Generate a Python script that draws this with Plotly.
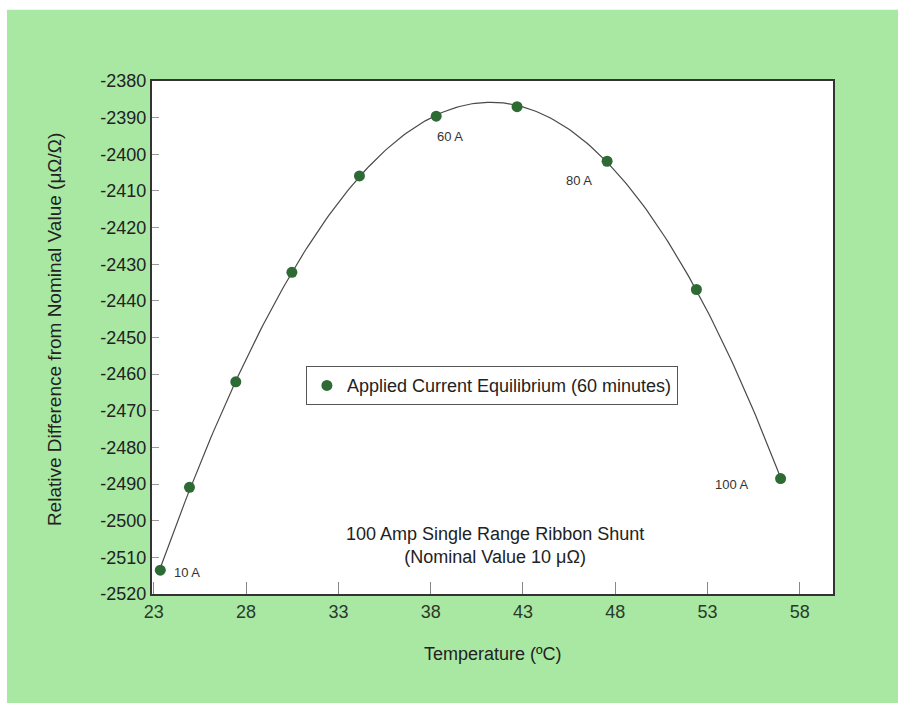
import numpy as np
import plotly.graph_objects as go

# Data
temperature = [23.35, 24.93, 27.44, 30.48, 34.14, 38.30, 42.68, 47.56, 52.40, 56.96]
rel_diff = [-2513.5, -2490.9, -2462.1, -2432.2, -2405.9, -2389.6, -2387.0, -2401.9, -2436.9, -2488.5]
point_labels = ["10 A", "", "", "", "", "60 A", "", "80 A", "", "100 A"]
x_ticks = [23, 28, 33, 38, 43, 48, 53, 58]
y_ticks = [-2520, -2510, -2500, -2490, -2480, -2470, -2460, -2450, -2440, -2430,
           -2420, -2410, -2400, -2390, -2380]
y_ticktext = [str(v) for v in y_ticks]  # plain hyphen minus

GREEN = "#a9e8a2"
FONT = "Liberation Sans, Arial, sans-serif"

# smooth fitted curve through the measurements
coef = np.polyfit(temperature, rel_diff, 3)
xs = np.linspace(min(temperature), max(temperature), 200)
ys = np.polyval(coef, xs)

fig = go.Figure()
fig.add_trace(go.Scatter(x=xs, y=ys, mode="lines", line=dict(color="#4a4a4a", width=1.2),
                         showlegend=False, hoverinfo="skip"))
fig.add_trace(go.Scatter(x=temperature, y=rel_diff, mode="markers",
                         marker=dict(color="#2d6a34", size=11),
                         name="Applied Current Equilibrium (60 minutes)"))

# label offsets (pixels) for current labels
offsets = {"10 A": (27, 2), "60 A": (14, 20), "80 A": (-28, 19), "100 A": (-49, 6)}
for t, v, lab in zip(temperature, rel_diff, point_labels):
    if lab:
        dx, dy = offsets[lab]
        fig.add_annotation(x=t, y=v, text=lab, showarrow=False, xshift=dx, yshift=-dy,
                           font=dict(size=13, color="#333333", family=FONT))

fig.add_annotation(x=0.504, y=0.0955, xref="paper", yref="paper", xanchor="center",
                   yanchor="middle",
                   text="100 Amp Single Range Ribbon Shunt<br>(Nominal Value 10 μΩ)",
                   showarrow=False, align="center",
                   font=dict(size=18, color="#222222", family=FONT))

# axis titles
fig.add_annotation(x=-0.142, y=0.515, xref="paper", yref="paper", xanchor="center",
                   yanchor="middle",
                   text="Relative Difference from Nominal Value (μΩ/Ω)",
                   textangle=-90, showarrow=False,
                   font=dict(size=19, color="#222222", family=FONT))
fig.add_annotation(x=0.5, y=-0.117, xref="paper", yref="paper", xanchor="center",
                   yanchor="middle",
                   text="Temperature (ºC)", showarrow=False,
                   font=dict(size=18, color="#222222", family=FONT))

# white strips of the scanned page
fig.add_shape(type="rect", xref="paper", yref="paper", x0=-0.3, x1=-0.213, y0=-0.3, y1=1.3,
              fillcolor="white", line_width=0, layer="above")
fig.add_shape(type="rect", xref="paper", yref="paper", x0=-0.3, x1=1.2, y0=1.139, y1=1.3,
              fillcolor="white", line_width=0, layer="above")

fig.update_layout(
    width=898, height=703,
    margin=dict(l=152, r=65, t=81, b=109),
    paper_bgcolor=GREEN, plot_bgcolor="white",
    font=dict(family=FONT, size=18, color="#222222"),
    legend=dict(x=0.226, y=0.444, xanchor="left", yanchor="top",
                bgcolor="white", bordercolor="#555555", borderwidth=1,
                font=dict(size=18, family=FONT, color="#222222")),
    xaxis=dict(range=[22.9, 59.8], tickvals=x_ticks, ticks="inside", ticklen=12,
               tickcolor="#888888", showgrid=False, zeroline=False,
               showline=True, mirror=True, linecolor="#333333", linewidth=2,
               tickfont=dict(size=18, color="#2a3a2a")),
    yaxis=dict(range=[-2520, -2380], tickvals=y_ticks, ticktext=y_ticktext,
               ticks="inside", ticklen=7,
               tickcolor="#999999", showgrid=False, zeroline=False,
               showline=True, mirror=True, linecolor="#333333", linewidth=2,
               tickfont=dict(size=18)),
)

fig.write_html("out.html")
